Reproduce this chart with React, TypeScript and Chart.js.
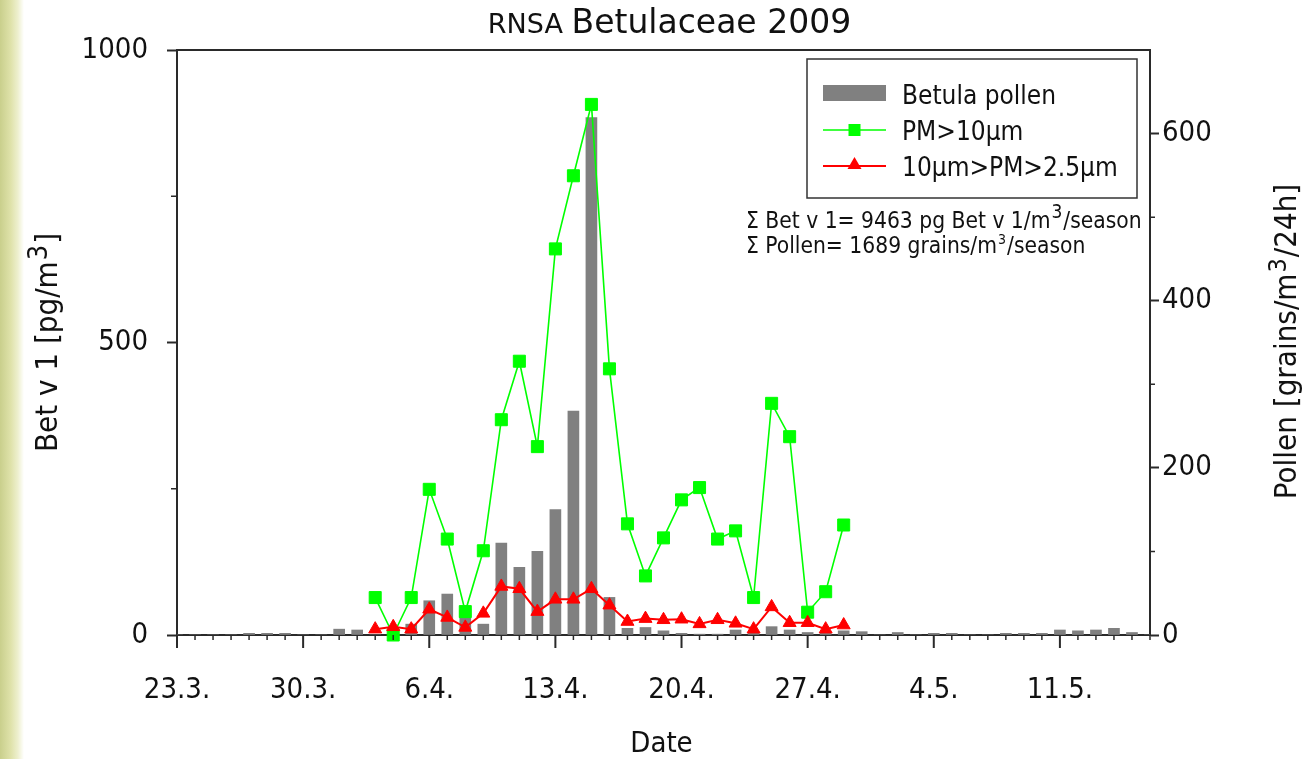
import React, { useEffect, useRef } from 'react';
import { Chart, registerables } from 'chart.js';

Chart.register(...registerables);

// ---------- DATA ----------
const dateLabels = [
  '23.3.', '24.3.', '25.3.', '26.3.', '27.3.', '28.3.', '29.3.', '30.3.', '31.3.',
  '1.4.', '2.4.', '3.4.', '4.4.', '5.4.', '6.4.', '7.4.', '8.4.', '9.4.', '10.4.',
  '11.4.', '12.4.', '13.4.', '14.4.', '15.4.', '16.4.', '17.4.', '18.4.', '19.4.', '20.4.',
  '21.4.', '22.4.', '23.4.', '24.4.', '25.4.', '26.4.', '27.4.', '28.4.', '29.4.', '30.4.',
  '1.5.', '2.5.', '3.5.', '4.5.', '5.5.', '6.5.', '7.5.', '8.5.', '9.5.', '10.5.',
  '11.5.', '12.5.', '13.5.', '14.5.', '15.5.', '16.5.',
];

// Betula pollen, grains/m3/24h (right axis)
const pollenGrains = [
  0, 0, 0, 0, 2, 2, 2, 0, 0,
  7, 6, 0, 0, 13, 41, 49, 30, 13, 110,
  81, 100, 150, 268, 619, 45, 8, 9, 5, 2,
  1, 1, 6, 2, 10, 6, 3, 3, 5, 4,
  0, 3, 0, 2, 2, 0, 0, 2, 2, 2,
  6, 5, 6, 8, 3, 0,
];

// Bet v 1 in PM>10µm, pg/m3 (left axis)
const pmCoarse = [
  null, null, null, null, null, null, null, null, null,
  null, null, 64, 0, 64, 249, 164, 40, 144, 368,
  468, 322, 660, 785, 907, 455, 190, 101, 166, 231,
  252, 164, 178, 64, 396, 339, 39, 74, 188, null,
  null, null, null, null, null, null, null, null, null, null,
  null, null, null, null, null, null,
];

// Bet v 1 in 10µm>PM>2.5µm, pg/m3 (left axis)
const pmFine = [
  null, null, null, null, null, null, null, null, null,
  null, null, 10, 14, 10, 44, 30, 13, 37, 83,
  79, 40, 61, 61, 79, 51, 23, 28, 26, 27,
  19, 26, 20, 10, 48, 21, 21, 10, 17, null,
  null, null, null, null, null, null, null, null, null, null,
  null, null, null, null, null, null,
];

const seriesNames = ['Betula pollen', 'PM>10µm', '10µm>PM>2.5µm'];
const leftTickValues = [0, 500, 1000];
const leftMinorTicks = [250, 750];
const rightTickValues = [0, 200, 400, 600];
const rightMinorTicks = [100, 300, 500];
const titleSmall = 'RNSA';
const titleMain = 'Betulaceae 2009';
const leftAxisTitle = ['Bet v 1 [pg/m', '3', ']'];
const rightAxisTitle = ['Pollen [grains/m', '3', '/24h]'];
const xAxisTitle = 'Date';
const sumBetLine = ['Σ Bet v 1= 9463 pg Bet v 1/m', '3', '/season'];
const sumPollenLine = ['Σ Pollen= 1689 grains/m', '3', '/season'];

// ---------- STYLE ----------
const SANS = '"DejaVu Sans Condensed", "Liberation Sans", sans-serif';
const TITLE_FONT = '"DejaVu Sans", "Liberation Sans", sans-serif';
const AXIS = '#2a2a2a';
const TEXT = '#111111';
const GREEN = '#00ff00';
const RED = '#ff0000';
const GRAY = '#808080';

function drawSup(
  ctx: CanvasRenderingContext2D,
  parts: string[],
  x: number,
  y: number,
  size: number,
  supSize: number,
  rise: number,
  align: 'left' | 'center'
) {
  ctx.font = `${size}px ${SANS}`;
  const w1 = ctx.measureText(parts[0]).width;
  const w3 = ctx.measureText(parts[2]).width;
  ctx.font = `${supSize}px ${SANS}`;
  const w2 = ctx.measureText(parts[1]).width;
  const sx = align === 'center' ? x - (w1 + w2 + w3) / 2 : x;
  ctx.textAlign = 'left';
  ctx.textBaseline = 'alphabetic';
  ctx.font = `${size}px ${SANS}`;
  ctx.fillText(parts[0], sx, y);
  ctx.font = `${supSize}px ${SANS}`;
  ctx.fillText(parts[1], sx + w1 + 1, y - rise);
  ctx.font = `${size}px ${SANS}`;
  ctx.fillText(parts[2], sx + w1 + w2 + 2, y);
}

const overlayPlugin = {
  id: 'overlay',
  afterDraw(chart: any) {
    const ctx: CanvasRenderingContext2D = chart.ctx;
    const ca = chart.chartArea;
    const xs = chart.scales.x;
    const yl = chart.scales.y;
    const yr = chart.scales.y2;
    ctx.save();

    // top frame line
    ctx.strokeStyle = AXIS;
    ctx.lineWidth = 2;
    ctx.beginPath();
    ctx.moveTo(ca.left - 1, ca.top);
    ctx.lineTo(ca.right + 1, ca.top);
    ctx.stroke();

    // x ticks: major every 7 days, minor daily
    ctx.beginPath();
    dateLabels.forEach((_, i) => {
      if (i % 7 === 0) {
        const px = xs.getPixelForValue(i);
        ctx.moveTo(px, ca.bottom);
        ctx.lineTo(px, ca.bottom + 13);
      }
    });
    ctx.stroke();

    ctx.lineWidth = 1.5;
    ctx.beginPath();
    dateLabels.forEach((_, i) => {
      if (i % 7 !== 0) {
        const px = xs.getPixelForValue(i);
        ctx.moveTo(px, ca.bottom);
        ctx.lineTo(px, ca.bottom + 5);
      }
    });
    leftMinorTicks.forEach((v) => {
      const py = yl.getPixelForValue(v);
      ctx.moveTo(ca.left - 6, py);
      ctx.lineTo(ca.left, py);
    });
    rightMinorTicks.forEach((v) => {
      const py = yr.getPixelForValue(v);
      ctx.moveTo(ca.right, py);
      ctx.lineTo(ca.right + 5, py);
    });
    ctx.stroke();

    ctx.fillStyle = TEXT;

    // chart title
    ctx.textBaseline = 'alphabetic';
    ctx.textAlign = 'left';
    ctx.font = `27px ${TITLE_FONT}`;
    const ws = ctx.measureText(titleSmall + ' ').width;
    ctx.font = `33px ${TITLE_FONT}`;
    const wm = ctx.measureText(titleMain).width;
    const cx = (ca.left + ca.right) / 2 + 6;
    const tx = cx - (ws + wm) / 2;
    ctx.font = `27px ${TITLE_FONT}`;
    ctx.fillText(titleSmall, tx, 33);
    ctx.font = `33px ${TITLE_FONT}`;
    ctx.fillText(titleMain, tx + ws, 33);

    // axis titles
    ctx.save();
    ctx.translate(57, (ca.top + ca.bottom) / 2 + 1);
    ctx.rotate(-Math.PI / 2);
    drawSup(ctx, leftAxisTitle, 0, 0, 31, 27, 10, 'center');
    ctx.restore();

    ctx.save();
    ctx.translate(1296, (ca.top + ca.bottom) / 2);
    ctx.rotate(-Math.PI / 2);
    drawSup(ctx, rightAxisTitle, 0, 0, 31, 25, 10, 'center');
    ctx.restore();

    ctx.font = `29px ${SANS}`;
    ctx.textAlign = 'center';
    ctx.fillText(xAxisTitle, (ca.left + ca.right) / 2 - 2, 752);

    // legend box
    const lx = ca.right - 343;
    const ly = ca.top + 9;
    ctx.strokeStyle = '#333';
    ctx.lineWidth = 1.5;
    ctx.strokeRect(lx, ly, 330, 139);
    const sx0 = lx + 16;
    const sx1 = lx + 79;
    const smid = (sx0 + sx1) / 2;
    // row 1: bars
    ctx.fillStyle = GRAY;
    ctx.fillRect(sx0, ly + 26, sx1 - sx0, 16);
    // row 2: PM>10
    ctx.strokeStyle = GREEN;
    ctx.lineWidth = 1.5;
    ctx.beginPath();
    ctx.moveTo(sx0, ly + 71);
    ctx.lineTo(sx1, ly + 71);
    ctx.stroke();
    ctx.fillStyle = GREEN;
    ctx.fillRect(smid - 6, ly + 65, 12, 12);
    // row 3: fine PM
    ctx.strokeStyle = RED;
    ctx.lineWidth = 2;
    ctx.beginPath();
    ctx.moveTo(sx0, ly + 107);
    ctx.lineTo(sx1, ly + 107);
    ctx.stroke();
    ctx.fillStyle = RED;
    ctx.beginPath();
    ctx.moveTo(smid, ly + 98);
    ctx.lineTo(smid + 7, ly + 110);
    ctx.lineTo(smid - 7, ly + 110);
    ctx.closePath();
    ctx.fill();

    ctx.fillStyle = TEXT;
    ctx.textAlign = 'left';
    ctx.font = `26px ${SANS}`;
    ctx.fillText(seriesNames[0], lx + 95, ly + 45);
    ctx.fillText(seriesNames[1], lx + 95, ly + 81);
    ctx.fillText(seriesNames[2], lx + 95, ly + 117);

    // sums annotation
    drawSup(ctx, sumBetLine, ca.right - 404, ca.top + 178, 22.6, 19, 10, 'left');
    drawSup(ctx, sumPollenLine, ca.right - 404, ca.top + 203, 22.6, 14, 9, 'left');

    ctx.restore();
  },
};

export default function App() {
  const canvasRef = useRef<HTMLCanvasElement | null>(null);

  useEffect(() => {
    document.body.style.margin = '0';
    Chart.defaults.font.family = SANS;
    const canvas = canvasRef.current;
    if (!canvas) return;
    const chart = new Chart(canvas, {
      type: 'bar',
      data: {
        labels: dateLabels,
        datasets: [
          {
            type: 'line',
            label: seriesNames[2],
            data: pmFine,
            yAxisID: 'y',
            borderColor: RED,
            backgroundColor: RED,
            borderWidth: 2,
            pointStyle: 'triangle',
            pointRadius: 7.5,
            pointBorderWidth: 1,
            pointBackgroundColor: RED,
            pointBorderColor: RED,
            tension: 0,
            order: 1,
            clip: false,
          } as any,
          {
            type: 'line',
            label: seriesNames[1],
            data: pmCoarse,
            yAxisID: 'y',
            borderColor: GREEN,
            backgroundColor: GREEN,
            borderWidth: 1.6,
            pointStyle: 'rect',
            pointRadius: 8.5,
            pointBorderWidth: 1,
            pointBackgroundColor: GREEN,
            pointBorderColor: GREEN,
            tension: 0,
            order: 2,
            clip: false,
          } as any,
          {
            type: 'bar',
            label: seriesNames[0],
            data: pollenGrains,
            yAxisID: 'y2',
            backgroundColor: GRAY,
            borderWidth: 0,
            barThickness: 11,
            order: 3,
          } as any,
        ],
      },
      options: {
        responsive: false,
        animation: false,
        layout: { padding: { top: 50, left: 0, right: 0, bottom: 0 } },
        plugins: {
          legend: { display: false },
          tooltip: { enabled: false },
          title: { display: false },
        },
        scales: {
          x: {
            type: 'category',
            offset: false,
            grid: {
              offset: false,
              drawOnChartArea: false,
              tickLength: 13,
              tickWidth: 2,
              tickColor: 'rgba(0,0,0,0)',
            },
            border: { color: AXIS, width: 2 },
            ticks: {
              autoSkip: false,
              maxRotation: 0,
              minRotation: 0,
              padding: 25,
              color: TEXT,
              font: { size: 29, family: SANS },
              callback: (_v: any, i: number) => (i % 7 === 0 ? dateLabels[i] : ''),
            },
            afterFit: (s: any) => {
              s.height = 124;
            },
          },
          y: {
            type: 'linear',
            position: 'left',
            min: 0,
            max: 1000,
            afterBuildTicks: (s: any) => {
              s.ticks = leftTickValues.map((v) => ({ value: v }));
            },
            grid: { drawOnChartArea: false, tickLength: 10, tickWidth: 2, tickColor: AXIS },
            border: { color: AXIS, width: 2 },
            ticks: {
              padding: 19,
              color: TEXT,
              font: { size: 29, family: SANS },
              callback: (v: any) => String(v),
            },
            afterFit: (s: any) => {
              s.width = 177;
            },
          },
          y2: {
            type: 'linear',
            position: 'right',
            min: 0,
            max: 700,
            afterBuildTicks: (s: any) => {
              s.ticks = rightTickValues.map((v) => ({ value: v }));
            },
            grid: { drawOnChartArea: false, tickLength: 9, tickWidth: 2, tickColor: AXIS },
            border: { color: AXIS, width: 2 },
            ticks: {
              padding: 3,
              color: TEXT,
              font: { size: 29, family: SANS },
              callback: (v: any) => String(v),
            },
            afterFit: (s: any) => {
              s.width = 157;
            },
          },
        },
      } as any,
      plugins: [overlayPlugin],
    });
    return () => chart.destroy();
  }, []);

  return (
    <div
      style={{
        position: 'absolute',
        left: 0,
        top: 0,
        width: 1307,
        height: 759,
        background: '#ffffff',
        overflow: 'hidden',
      }}
    >
      <div
        style={{
          position: 'absolute',
          left: 0,
          top: 0,
          width: 24,
          height: 759,
          background: 'linear-gradient(to right, #c9cf8c 0%, #dfe2aa 45%, #eef0cf 75%, #ffffff 100%)',
        }}
      />
      <canvas
        ref={canvasRef}
        width={1307}
        height={759}
        style={{ position: 'absolute', left: 0, top: 0, display: 'block' }}
      />
    </div>
  );
}
